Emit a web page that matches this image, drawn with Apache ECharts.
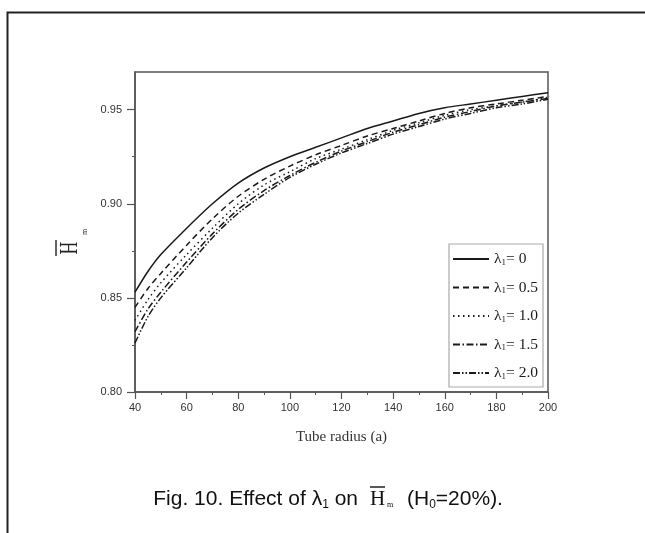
<!DOCTYPE html>
<html>
<head>
<meta charset="utf-8">
<script src="https://cdn.jsdelivr.net/npm/echarts@6/dist/echarts.min.js"></script>
<style>
  html, body { margin: 0; padding: 0; background: #fff; }
  #chart { width: 645px; height: 533px; }
</style>
</head>
<body>
<div id="chart"></div>
<script>
// Tube radius values (x axis)
const radius = [40, 45, 50, 60, 70, 80, 90, 100, 110, 120, 130, 140, 150, 160, 170, 180, 190, 200];

// Mean height ratio for each lambda_1
const hLam00 = [0.853, 0.864, 0.873, 0.887, 0.900, 0.911, 0.919, 0.925, 0.930, 0.935, 0.940, 0.944, 0.948, 0.951, 0.953, 0.955, 0.957, 0.959];
const hLam05 = [0.845, 0.855, 0.863, 0.878, 0.892, 0.904, 0.913, 0.920, 0.926, 0.931, 0.936, 0.940, 0.944, 0.948, 0.951, 0.953, 0.955, 0.957];
const hLam10 = [0.838, 0.849, 0.858, 0.873, 0.887, 0.900, 0.910, 0.917, 0.924, 0.929, 0.934, 0.939, 0.943, 0.947, 0.950, 0.952, 0.954, 0.9565];
const hLam15 = [0.832, 0.844, 0.853, 0.869, 0.884, 0.897, 0.907, 0.915, 0.922, 0.928, 0.933, 0.938, 0.942, 0.946, 0.949, 0.952, 0.954, 0.956];
const hLam20 = [0.826, 0.840, 0.850, 0.866, 0.882, 0.895, 0.905, 0.914, 0.921, 0.927, 0.932, 0.937, 0.941, 0.945, 0.948, 0.951, 0.953, 0.9555];

const seriesNames = ['λ1= 0', 'λ1= 0.5', 'λ1= 1.0', 'λ1= 1.5', 'λ1= 2.0'];
const seriesData = [hLam00, hLam05, hLam10, hLam15, hLam20];
const dashTypes = ['solid', [6, 4], [1.5, 3.5], [7, 2.5, 1.5, 2.5], [7, 2, 1.5, 2, 1.5, 2]];

const yTicks = [0.80, 0.85, 0.90, 0.95];
const yMinorTicks = [0.825, 0.875, 0.925];

const ink = '#1a1a1a';
const axisInk = '#555';
const sans = '"Liberation Sans", Arial, sans-serif';
const serif = '"Liberation Serif", "Times New Roman", serif';

const chart = echarts.init(document.getElementById('chart'));

const series = seriesNames.map((name, i) => ({
  name: name,
  type: 'line',
  showSymbol: false,
  symbol: 'none',
  smooth: 0.3,
  lineStyle: { color: ink, width: 1.5, type: dashTypes[i] },
  itemStyle: { color: ink },
  data: radius.map((r, k) => [r, seriesData[i][k]])
}));

const yRange = { min: 0.80, max: 0.97 };

chart.setOption({
  animation: false,
  backgroundColor: '#fff',
  grid: {
    left: 135, right: 97, top: 72, bottom: 141,
    show: true, borderColor: axisInk, borderWidth: 1.5, backgroundColor: 'transparent'
  },
  xAxis: {
    type: 'value', min: 40, max: 200, interval: 20,
    name: 'Tube radius (a)', nameLocation: 'middle', nameGap: 38,
    nameTextStyle: { fontFamily: serif, fontSize: 15, color: '#333' },
    axisLine: { show: true, lineStyle: { color: axisInk, width: 1.5 } },
    axisTick: { show: true, length: 7, lineStyle: { color: axisInk, width: 1.2 } },
    minorTick: { show: true, splitNumber: 2, length: 3, lineStyle: { color: axisInk, width: 1 } },
    axisLabel: { fontFamily: sans, fontSize: 11, color: '#333', margin: 10 },
    splitLine: { show: false }
  },
  yAxis: [
    {
      // main value axis: labels and major ticks
      type: 'value', min: yRange.min, max: yRange.max,
      axisLine: { show: true, lineStyle: { color: axisInk, width: 1.5 } },
      axisTick: { show: true, length: 8, customValues: yTicks, lineStyle: { color: axisInk, width: 1.2 } },
      axisLabel: {
        fontFamily: sans, fontSize: 11, color: '#333', margin: 13,
        customValues: yTicks, formatter: v => v.toFixed(2)
      },
      splitLine: { show: false }
    },
    {
      // companion axis carrying the short intermediate ticks
      type: 'value', min: yRange.min, max: yRange.max, position: 'left',
      axisLine: { show: false },
      axisTick: { show: true, length: 3, customValues: yMinorTicks, lineStyle: { color: axisInk, width: 1 } },
      axisLabel: { show: false },
      splitLine: { show: false }
    }
  ],
  legend: {
    orient: 'vertical',
    left: 449, top: 244,
    padding: [7, 5, 6, 3],
    itemGap: 12.5,
    itemWidth: 36, itemHeight: 16,
    backgroundColor: '#fff',
    borderColor: '#aaa', borderWidth: 1.2,
    itemStyle: { opacity: 0 },
    data: seriesNames,
    formatter: name => {
      const parts = name.split('= ');
      return '{l|λ}{s|1}{l|= ' + parts[1] + '}';
    },
    textStyle: {
      color: ink,
      rich: {
        l: { fontFamily: serif, fontSize: 15.5, color: ink, lineHeight: 16, verticalAlign: 'middle' },
        s: { fontFamily: serif, fontSize: 9, color: ink, lineHeight: 8, verticalAlign: 'bottom' }
      }
    }
  },
  graphic: [
    // outer frame
    {
      type: 'rect', left: 5, top: 10, silent: true,
      shape: { x: 0, y: 0, width: 700, height: 600 },
      style: { fill: 'none', stroke: '#222', lineWidth: 2 }
    },
    // y-axis name: H with overbar, subscript m, rotated to read upward
    {
      type: 'group', x: 71, y: 248, rotation: Math.PI / 2,
      children: [
        {
          type: 'text', x: 0, y: 0, scaleX: 0.85, scaleY: 1.15,
          style: { text: 'H', font: '21px ' + serif, fill: '#222', align: 'center', verticalAlign: 'middle' }
        },
        {
          type: 'text', x: 16, y: 14,
          style: { text: 'm', font: '8px ' + serif, fill: '#222', align: 'center', verticalAlign: 'middle' }
        },
        { type: 'line', shape: { x1: -8, y1: -15, x2: 8, y2: -15 }, style: { stroke: '#222', lineWidth: 1.4 } }
      ]
    },
    // caption, left part
    {
      type: 'text', x: 358, y: 499,
      style: {
        text: '{a|Fig. 10. Effect of λ}{s|1}{a| on}',
        align: 'right', verticalAlign: 'middle',
        rich: {
          a: { fontFamily: sans, fontSize: 21, fill: '#111', lineHeight: 24, verticalAlign: 'middle' },
          s: { fontFamily: sans, fontSize: 12, fill: '#111', lineHeight: 12, verticalAlign: 'bottom' }
        }
      }
    },
    // caption, H with overbar and subscript m
    {
      type: 'text', x: 377.5, y: 499,
      style: { text: 'H', font: '21px ' + serif, fill: '#111', align: 'center', verticalAlign: 'middle' }
    },
    {
      type: 'text', x: 390, y: 505,
      style: { text: 'm', font: '8px ' + serif, fill: '#111', align: 'center', verticalAlign: 'middle' }
    },
    { type: 'line', shape: { x1: 370, y1: 487, x2: 385, y2: 487 }, style: { stroke: '#111', lineWidth: 1.4 } },
    // caption, right part
    {
      type: 'text', x: 407, y: 499,
      style: {
        text: '{a|(H}{s|0}{a|=20%).}',
        align: 'left', verticalAlign: 'middle',
        rich: {
          a: { fontFamily: sans, fontSize: 21, fill: '#111', lineHeight: 24, verticalAlign: 'middle' },
          s: { fontFamily: sans, fontSize: 12, fill: '#111', lineHeight: 12, verticalAlign: 'bottom' }
        }
      }
    }
  ],
  series: series
});
</script>
</body>
</html>
